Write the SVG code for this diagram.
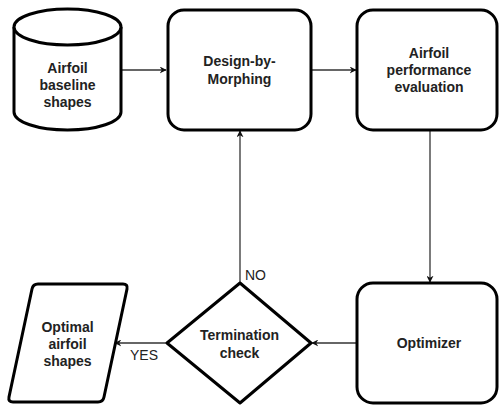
<svg xmlns="http://www.w3.org/2000/svg" width="499" height="407" viewBox="0 0 499 407">
<defs>
<marker id="arr" viewBox="0 0 10 10" refX="9" refY="5" markerWidth="7" markerHeight="7" markerUnits="userSpaceOnUse" orient="auto">
<path d="M0,0 L10,5 L0,10 L3,5 Z" fill="#111"/>
</marker>
</defs>
<style>
.shape{fill:#fff;stroke:#000;stroke-width:3;stroke-linejoin:round}
.conn{fill:none;stroke:#333;stroke-width:1.3}
.t{font-family:"Liberation Sans",Arial,sans-serif;font-size:14px;font-weight:bold;fill:#222;text-anchor:middle}
.lbl{font-family:"Liberation Sans",Arial,sans-serif;font-size:14px;fill:#222}
</style>
<rect width="499" height="407" fill="#fff"/>
<g id="connectors">
<line class="conn" x1="122" y1="70" x2="166" y2="70" marker-end="url(#arr)"/>
<line class="conn" x1="312" y1="70" x2="356" y2="70" marker-end="url(#arr)"/>
<line class="conn" x1="430" y1="131" x2="430" y2="282" marker-end="url(#arr)"/>
<line class="conn" x1="356" y1="343" x2="312" y2="343" marker-end="url(#arr)"/>
<line class="conn" x1="240" y1="283" x2="240" y2="131" marker-end="url(#arr)"/>
<line class="conn" x1="167" y1="343" x2="115" y2="343" marker-end="url(#arr)"/>
<text class="lbl" x="245" y="280">NO</text>
<text class="lbl" x="130" y="360">YES</text>
</g>
<g id="baseline">
<path class="shape" d="M14,27 A53.5,18 0 0 1 121,27 L121,112 A53.5,18 0 0 1 14,112 Z"/>
<path class="shape" d="M14,27 A53.5,18 0 0 0 121,27" fill="none"/>
<text class="t" x="67.5" y="73">Airfoil</text>
<text class="t" x="67.5" y="90">baseline</text>
<text class="t" x="67.5" y="107">shapes</text>
</g>
<g id="dbm">
<rect class="shape" x="168" y="10" width="143" height="120" rx="16"/>
<text class="t" x="239.5" y="66">Design-by-</text>
<text class="t" x="239.5" y="84">Morphing</text>
</g>
<g id="perf">
<rect class="shape" x="357" y="10" width="140" height="120" rx="16"/>
<text class="t" x="429" y="58">Airfoil</text>
<text class="t" x="429" y="75">performance</text>
<text class="t" x="429" y="92">evaluation</text>
</g>
<g id="optimizer">
<rect class="shape" x="357" y="283" width="140" height="120" rx="16"/>
<text class="t" x="429" y="348">Optimizer</text>
</g>
<g id="termination">
<path class="shape" d="M240,283 L311,343 L240,403 L167,343 Z"/>
<text class="t" x="239.5" y="340">Termination</text>
<text class="t" x="239.5" y="358">check</text>
</g>
<g id="optimal">
<path class="shape" d="M38,284 L123,284 Q128,284 127,289 L104,397 Q103,402 98,402 L13,402 Q8,402 9,397 L32,289 Q33,284 38,284 Z"/>
<text class="t" x="67.5" y="332">Optimal</text>
<text class="t" x="67.5" y="349">airfoil</text>
<text class="t" x="67.5" y="366">shapes</text>
</g>
</svg>
